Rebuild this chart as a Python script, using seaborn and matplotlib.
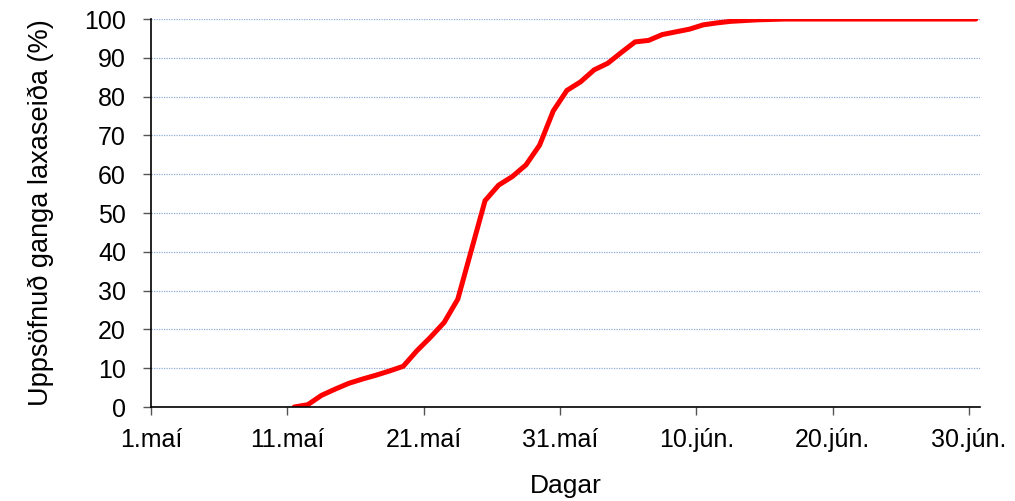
import numpy as np
import pandas as pd
import seaborn as sns
import matplotlib.pyplot as plt

# days since 1. maí (points sit mid-day, Excel date axis style)
day_index = np.arange(10, 61)
cum_percent = [0.0, 0.6, 3.0, 4.6, 6.1, 7.2, 8.2, 9.3, 10.5, 14.5,
               18.0, 21.8, 27.8, 40.5, 53.2, 57.2, 59.4, 62.4, 67.5, 76.3,
               81.6, 83.8, 86.9, 88.6, 91.4, 94.1, 94.5, 96.0, 96.7, 97.4,
               98.5, 99.0, 99.4, 99.6, 99.8, 99.9] + [100.0] * 15

tick_days = [0, 10, 20, 30, 40, 50, 60]
tick_labels = ["1.maí", "11.maí", "21.maí", "31.maí", "10.jún.", "20.jún.", "30.jún."]

df = pd.DataFrame({"dagur": day_index + 0.5, "prosent": cum_percent})

sns.set_style("ticks")
plt.rcParams['font.family'] = ['Liberation Sans', 'DejaVu Sans']
plt.rcParams['text.color'] = 'black'
plt.rcParams['axes.labelcolor'] = 'black'

fig = plt.figure(figsize=(10.15, 5.01), dpi=100)
ax = fig.add_axes([0.1488, 0.1876, 0.8167, 0.7744])

ax.set_axisbelow(True)
ax.yaxis.grid(True, linestyle=(0, (1, 1)), color="#8eaad8", linewidth=0.9)

sns.lineplot(data=df, x="dagur", y="prosent", ax=ax, color="#ff0000",
             linewidth=3.6, solid_joinstyle="miter")

ax.set_xlim(0, 60.8)
ax.set_ylim(0, 100)
ax.set_yticks(np.arange(0, 101, 10))
ax.set_xticks(tick_days)
ax.set_xticklabels(tick_labels)

ax.tick_params(axis="both", labelsize=18, length=6, width=1, color="#555555",
               labelcolor="black", direction="out")
ax.tick_params(axis="x", pad=9)
ax.tick_params(axis="y", pad=12)

for s in ["top", "right"]:
    ax.spines[s].set_visible(False)
for s in ["left", "bottom"]:
    ax.spines[s].set_color("black")
    ax.spines[s].set_linewidth(1.2)

ax.set_xlabel("Dagar", fontsize=19, labelpad=16)
ax.set_ylabel("Uppsöfnuð ganga laxaseiða (%)", fontsize=19.5, labelpad=22)

fig.savefig("out.png", dpi=100)
